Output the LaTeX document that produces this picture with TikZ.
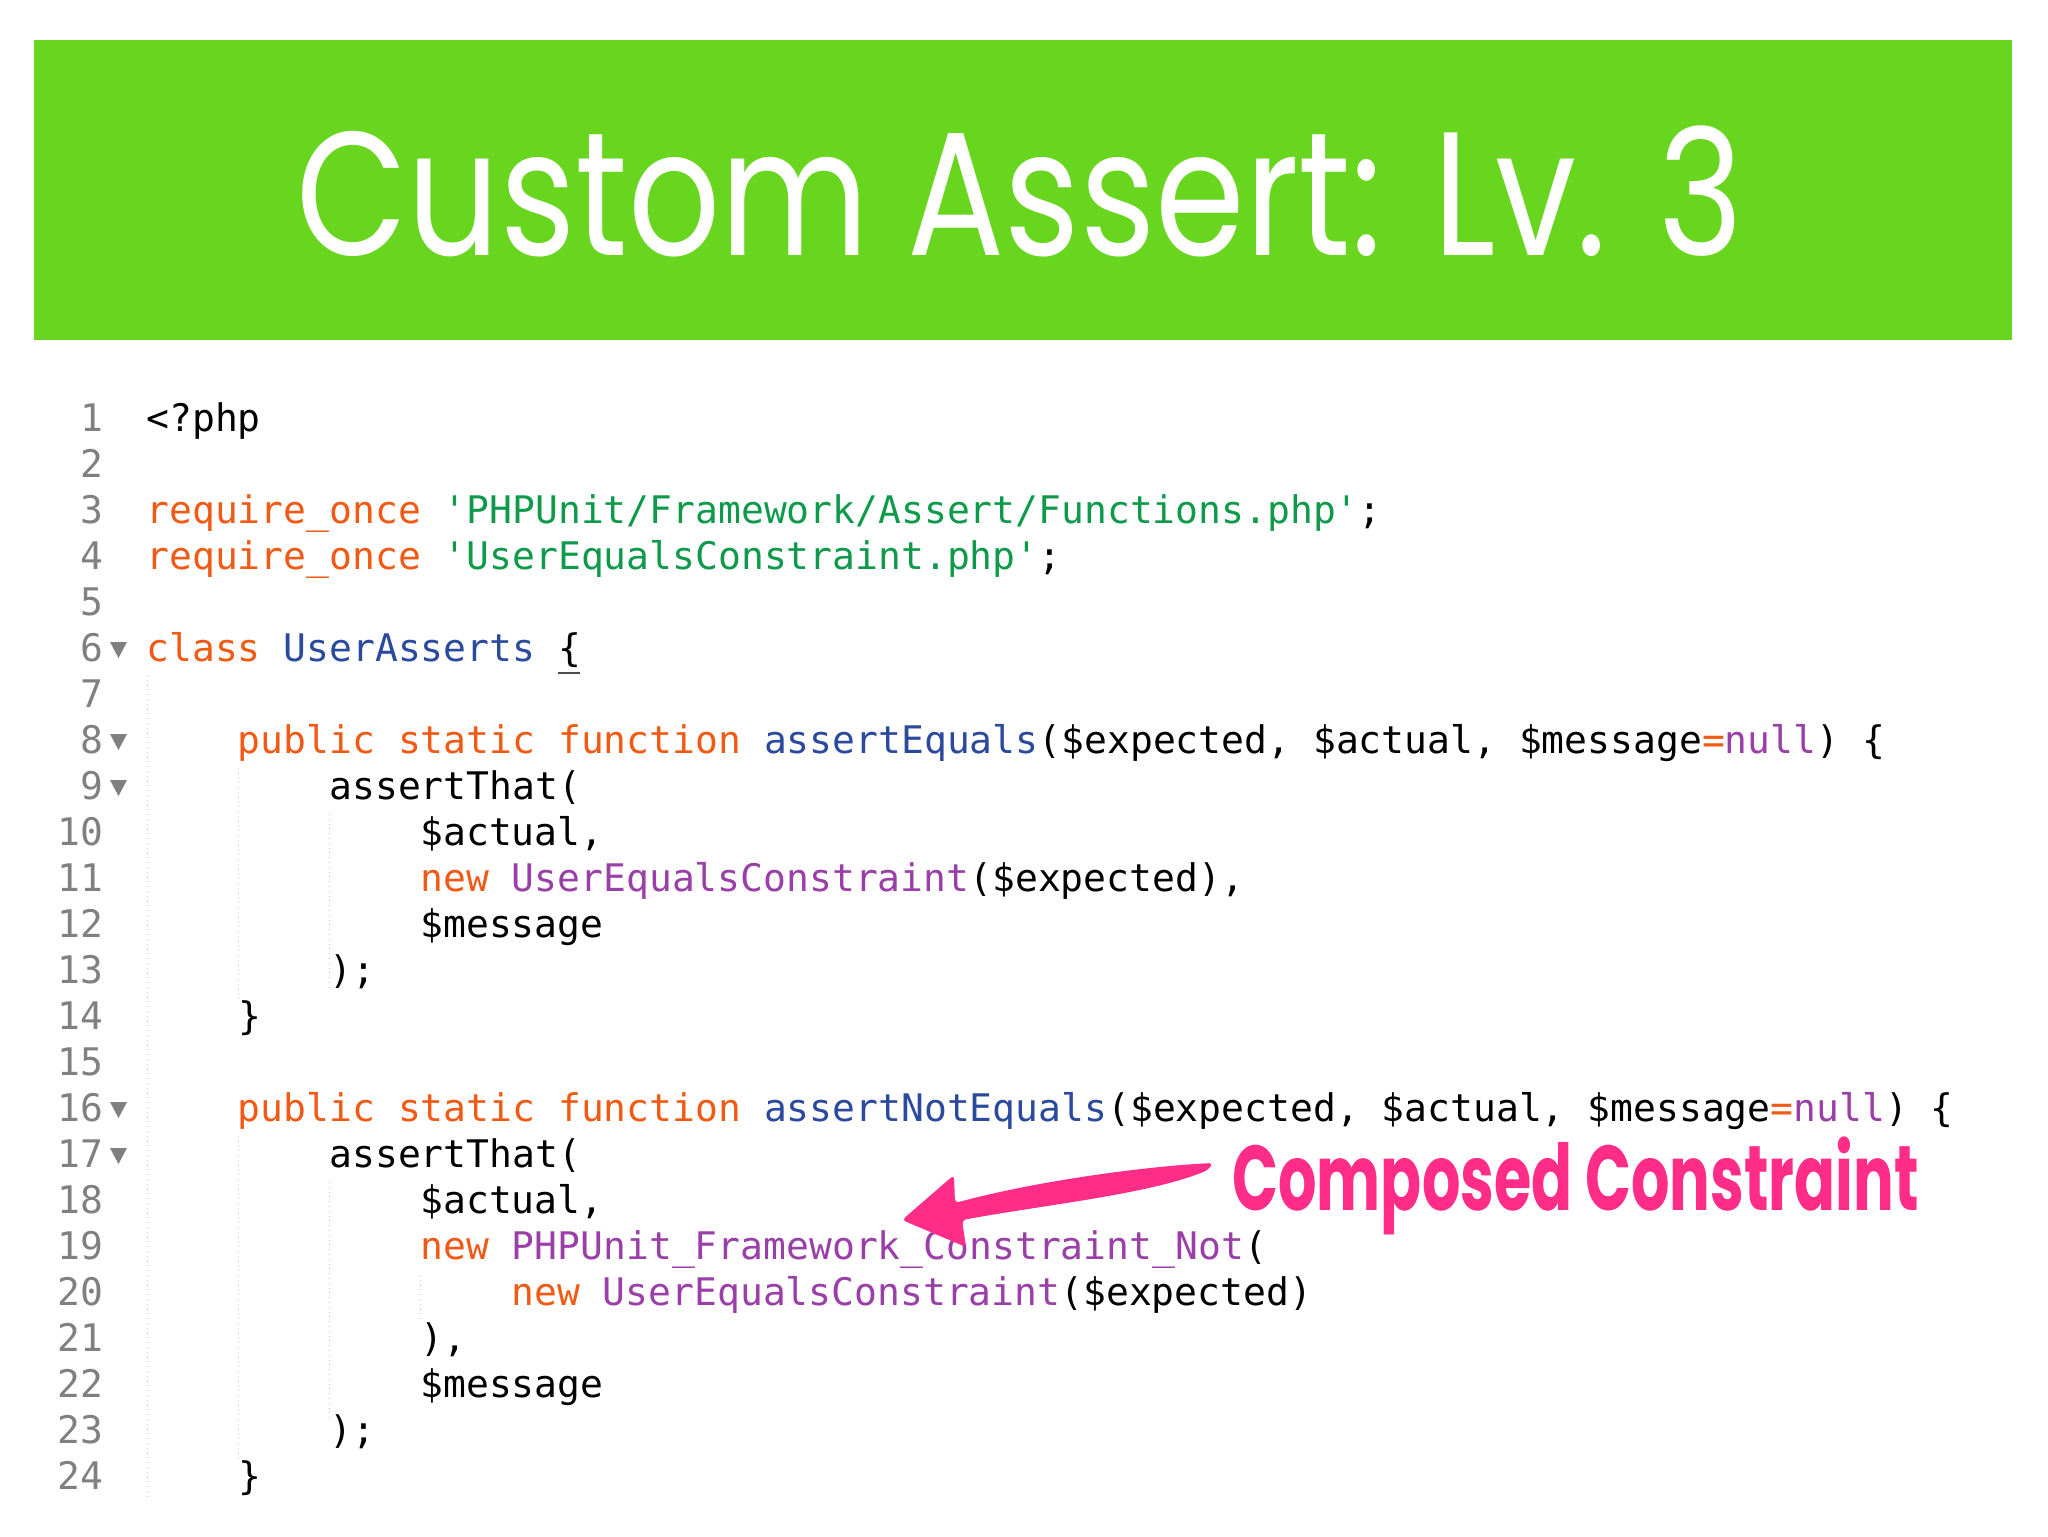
\documentclass[tikz,border=0pt]{standalone}
\usepackage{fontspec}
\setmonofont{DejaVu Sans Mono}
\newfontfamily\titlefont{Poppins}
\newfontfamily\notefont[UprightFont=* Bold]{Poppins}
\usepackage{tikz}
\definecolor{bannergreen}{HTML}{68D51E}
\definecolor{kwcolor}{HTML}{F05A14}
\definecolor{strcolor}{HTML}{0E9A4A}
\definecolor{fncolor}{HTML}{2B4A9E}
\definecolor{ctorcolor}{HTML}{9A3FA8}
\definecolor{notecolor}{HTML}{FF2D87}
\newcommand{\kw}[1]{\textcolor{kwcolor}{#1}}
\newcommand{\str}[1]{\textcolor{strcolor}{#1}}
\newcommand{\fn}[1]{\textcolor{fncolor}{#1}}
\newcommand{\ctor}[1]{\textcolor{ctorcolor}{#1}}
\tikzset{
  codeline/.style={anchor=base west, inner sep=0pt, font=\fontsize{19}{20}\ttfamily},
  linenum/.style={anchor=base east, inner sep=0pt, text=black!50, font=\fontsize{19}{20}\ttfamily},
  guide/.style={black!22, dotted, line width=0.4pt},
  fold/.style={fill=black!50},
}
\begin{document}
\begin{tikzpicture}[x=0.5pt, y=-0.5pt]
    \useasboundingbox (0,0) rectangle (2048,1536);

    % banner
    \fill[bannergreen] (34,40) rectangle (2012,340);
    \node[anchor=base, inner sep=0pt, text=white, font=\fontsize{88}{90}\titlefont] (title) at (1020,255) {\scalebox{0.82}[1]{Custom Assert: Lv. 3}};

    % gutter
    \foreach \n in {1,...,24}
      \node[linenum] (num\n) at (104,{431.5+46*(\n-1)}) {\n};
    \foreach \y in {660,752,798,1120,1166}
      \fill[fold] (110,\y-18) -- (127,\y-18) -- (118.5,\y-2) -- cycle;

    % indent guides
    \draw[guide] (147,675) -- (147,1497);
    \draw[guide] (238,768) -- (238,1000);
    \draw[guide] (329,814) -- (329,990);
    \draw[guide] (238,1136) -- (238,1460);
    \draw[guide] (329,1182) -- (329,1420);
    \draw[guide] (420,1275) -- (420,1320);

    % code
    \node[codeline] (php) at (146,431.5) {<?php};
    \node[codeline] (req1) at (146,523.5) {\kw{require\_once} \str{'PHPUnit/Framework/Assert/Functions.php'};};
    \node[codeline] (req2) at (146,569.5) {\kw{require\_once} \str{'UserEqualsConstraint.php'};};
    \node[codeline] (cls) at (146,661.5) {\kw{class} \fn{UserAsserts} \{};
    \draw[black!70, line width=1pt] (558,673) -- (580,673);

    \node[codeline] (eq) at (237.5,753.5) {\kw{public static function} \fn{assertEquals}(\$expected, \$actual, \$message\kw{=}\ctor{null}) \{};
    \node[codeline] (that1) at (329,799.5) {assertThat(};
    \node[codeline] (act1) at (420,845.5) {\$actual,};
    \node[codeline] (new1) at (420,891.5) {\kw{new} \ctor{UserEqualsConstraint}(\$expected),};
    \node[codeline] (msg1) at (420,937.5) {\$message};
    \node[codeline] (end1) at (329,983.5) {);};
    \node[codeline] (close1) at (238,1029.5) {\}};

    \node[codeline] (neq) at (237.5,1121.5) {\kw{public static function} \fn{assertNotEquals}(\$expected, \$actual, \$message\kw{=}\ctor{null}) \{};
    \node[codeline] (that2) at (329,1167.5) {assertThat(};
    \node[codeline] (act2) at (420,1213.5) {\$actual,};
    \node[codeline] (new2) at (420,1259.5) {\kw{new} \ctor{PHPUnit\_Framework\_Constraint\_Not}(};
    \node[codeline] (new3) at (511,1305.5) {\kw{new} \ctor{UserEqualsConstraint}(\$expected)};
    \node[codeline] (par2) at (420,1351.5) {),};
    \node[codeline] (msg2) at (420,1397.5) {\$message};
    \node[codeline] (end2) at (329,1443.5) {);};
    \node[codeline] (close2) at (238,1489.5) {\}};

    % note
    \node[anchor=base west, inner sep=0pt, text=notecolor, font=\fontsize{46}{50}\notefont] (note) at (1232,1210) {\scalebox{0.657}[1]{Composed Constraint}};
    \fill[notecolor, rounded corners=2pt] (1213,1163) .. controls (1150,1166) and (1040,1180) .. (955,1203) -- (954,1175)
      -- (902,1220) -- (966,1247) -- (962,1220) .. controls (1050,1204) and (1150,1194) .. (1208,1170) -- cycle;
\end{tikzpicture}
\end{document}
